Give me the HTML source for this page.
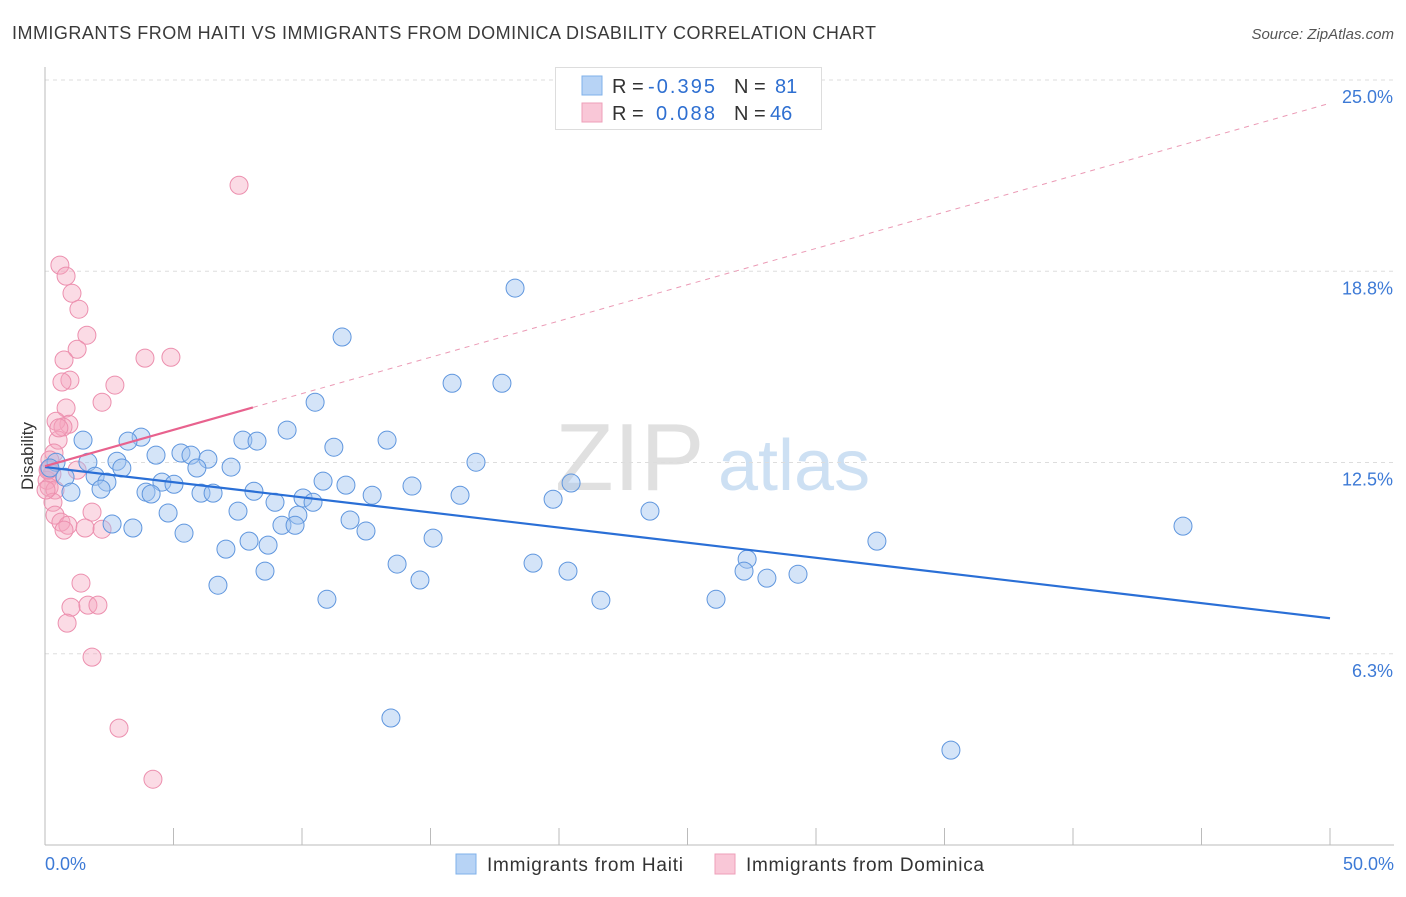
<!DOCTYPE html>
<html><head><meta charset="utf-8"><style>
body{margin:0;background:#fff;font-family:"Liberation Sans",sans-serif;}
svg text{font-family:"Liberation Sans",sans-serif;}
</style></head><body>
<svg id="chart" width="1406" height="892" xmlns="http://www.w3.org/2000/svg">
<text x="12" y="39" font-size="18" fill="#3a3a3a" textLength="864" lengthAdjust="spacing">IMMIGRANTS FROM HAITI VS IMMIGRANTS FROM DOMINICA DISABILITY CORRELATION CHART</text>
<text x="1394" y="39" font-size="15" fill="#555" text-anchor="end" font-style="italic">Source: ZipAtlas.com</text>
<g>
<text x="555" y="490" font-size="96" fill="#d4d4d4" font-family="Liberation Serif, serif" opacity="0.7">ZIP</text>
<text x="718" y="490" font-size="72" fill="#b9d3ef" opacity="0.7">atlas</text>
</g>
<g id="grid"></g>
<g id="axes"></g>
<g id="marks"></g>
<g>
<rect x="555.5" y="67.5" width="266" height="62" fill="#fff" stroke="#ddd"/>
<rect x="582" y="76" width="20" height="19" fill="#b7d3f5" stroke="#7fb0ea"/>
<rect x="582" y="103" width="20" height="19" fill="#f9c7d7" stroke="#ee9fb8"/>
<text x="612" y="93" font-size="20" fill="#333">R =</text>
<text x="648" y="93" font-size="20" fill="#2e6fd1" textLength="67">-0.395</text>
<text x="734" y="93" font-size="20" fill="#333">N =</text>
<text x="775" y="93" font-size="20" fill="#2e6fd1">81</text>
<text x="612" y="120" font-size="20" fill="#333">R =</text>
<text x="656" y="120" font-size="20" fill="#2e6fd1" textLength="59">0.088</text>
<text x="734" y="120" font-size="20" fill="#333">N =</text>
<text x="770" y="120" font-size="20" fill="#2e6fd1">46</text>
</g>
<g>
<rect x="456" y="854" width="20" height="20" fill="#b7d3f5" stroke="#7fb0ea"/>
<text x="487" y="871" font-size="19" fill="#333" textLength="196">Immigrants from Haiti</text>
<rect x="715" y="854" width="20" height="20" fill="#f9c7d7" stroke="#ee9fb8"/>
<text x="746" y="871" font-size="19" fill="#333" textLength="238">Immigrants from Dominica</text>
</g>
<text transform="translate(33,456) rotate(-90)" font-size="17" fill="#333" text-anchor="middle">Disability</text>
</svg>
<script>
const yTicks=[25,18.75,12.5,6.25];
const yTickLabels=["25.0%","18.8%","12.5%","6.3%"];
const xTickLabels=["0.0%","50.0%"];
const haitiX=[18.29,11.56,15.84,17.78,10.51,9.42,3.74,3.23,1.48,7.70,8.25,13.31,11.24,4.32,5.29,5.68,6.34,7.24,5.91,16.77,1.67,2.80,2.99,0.43,0.19,1.95,0.78,2.41,4.55,5.02,10.82,11.71,14.28,20.47,2.18,1.01,3.93,4.13,6.07,6.54,8.13,12.73,16.15,19.77,10.04,10.43,8.95,4.79,7.51,9.84,11.87,23.54,2.61,3.42,9.22,9.73,12.49,5.41,44.28,15.10,32.37,7.94,8.68,7.04,27.32,18.99,13.70,27.20,20.35,8.56,29.30,28.09,14.59,6.73,10.97,21.63,26.11,13.46,35.25];
const haitiY=[18.20,16.60,15.09,15.09,14.47,13.56,13.33,13.20,13.23,13.23,13.20,13.23,13.00,12.74,12.81,12.74,12.61,12.35,12.32,12.51,12.51,12.54,12.32,12.51,12.32,12.05,12.02,11.86,11.86,11.79,11.89,11.76,11.73,11.83,11.63,11.53,11.53,11.47,11.50,11.50,11.56,11.43,11.43,11.30,11.34,11.20,11.20,10.85,10.91,10.78,10.62,10.91,10.49,10.36,10.45,10.45,10.26,10.19,10.42,10.03,9.93,9.93,9.80,9.67,9.34,9.21,9.18,8.95,8.95,8.95,8.85,8.72,8.66,8.49,8.03,8.00,8.03,4.15,3.10];
const domX=[7.55,0.58,0.82,1.05,1.32,1.63,1.25,0.74,3.89,4.90,0.97,0.66,2.72,2.22,0.82,0.93,0.43,0.70,0.51,0.35,0.19,0.16,0.27,1.25,0.08,0.16,0.39,0.31,0.39,0.62,0.89,0.74,1.83,1.56,2.22,1.40,1.01,1.67,2.06,0.86,1.83,2.88,4.20,0.04,0.54,0.12];
const domY=[21.56,18.95,18.59,18.03,17.51,16.66,16.20,15.85,15.91,15.94,15.19,15.13,15.03,14.47,14.28,13.75,13.85,13.66,13.23,12.81,12.58,12.28,12.12,12.25,11.92,11.69,11.60,11.20,10.78,10.55,10.45,10.29,10.88,10.36,10.32,8.56,7.77,7.84,7.84,7.25,6.14,3.82,2.15,11.60,13.63,12.25];
const haitiTrend=[12.35,7.41];
const domTrend=[12.38,24.24];
const domSolidEnd=8.09;

const NS="http://www.w3.org/2000/svg";
const X0=45,X1=1330,Y0=845,PXY=30.6;
function sx(v){return X0+(v/50)*(X1-X0);}
function sy(v){return Y0-v*PXY;}
function mk(tag,attrs,parent){const e=document.createElementNS(NS,tag);for(const k in attrs)e.setAttribute(k,attrs[k]);parent.appendChild(e);return e;}
const grid=document.getElementById('grid'),axes=document.getElementById('axes'),marks=document.getElementById('marks');
yTicks.forEach((t,i)=>{
  const l=mk('line',{x1:X0,x2:1394,y1:sy(t),y2:sy(t),stroke:'#ddd','stroke-dasharray':'4,4'},grid);
  
  
  const tx=mk('text',{x:1393,y:sy(t)+23,'font-size':18,fill:'#3d7ad6','text-anchor':'end'},grid);
  tx.textContent=yTickLabels[i];
  
  
});
const ya=mk('line',{x1:X0,x2:X0,y1:67,y2:Y0,stroke:'#bbb'},axes);


const xa=mk('line',{x1:X0,x2:1394,y1:Y0,y2:Y0,stroke:'#bbb'},axes);


for(let v=0;v<=50;v+=5){
  const t=mk('line',{x1:sx(v),x2:sx(v),y1:828,y2:Y0,stroke:'#bbb'},axes);
  
  
}
[[0,'start',45],[50,'end',1394]].forEach((d,i)=>{
  const t=mk('text',{x:d[2],y:870,'font-size':18,fill:'#3d7ad6','text-anchor':d[1]},axes);
  t.textContent=xTickLabels[i];
  
  
});
domX.forEach((x,i)=>{
  const c=mk('circle',{cx:sx(x),cy:sy(domY[i]),r:9,fill:'rgba(245,165,190,0.4)',stroke:'#ec8fae','stroke-width':1},marks);
  
  
});
haitiX.forEach((x,i)=>{
  const c=mk('circle',{cx:sx(x),cy:sy(haitiY[i]),r:9,fill:'rgba(160,196,240,0.45)',stroke:'#5f96de','stroke-width':1},marks);
  
  
});
const ht=mk('line',{x1:sx(0),y1:sy(haitiTrend[0]),x2:sx(50),y2:sy(haitiTrend[1]),stroke:'#2a6fd6','stroke-width':2.2},marks);


const dAt=v=>domTrend[0]+(domTrend[1]-domTrend[0])*v/50;
const ds=mk('line',{x1:sx(0),y1:sy(dAt(0)),x2:sx(domSolidEnd),y2:sy(dAt(domSolidEnd)),stroke:'#e8628e','stroke-width':2.2},marks);


const dd=mk('line',{x1:sx(domSolidEnd),y1:sy(dAt(domSolidEnd)),x2:sx(50),y2:sy(dAt(50)),stroke:'#eb9ab5','stroke-width':1,'stroke-dasharray':'5,5'},marks);


</script>
</body></html>
